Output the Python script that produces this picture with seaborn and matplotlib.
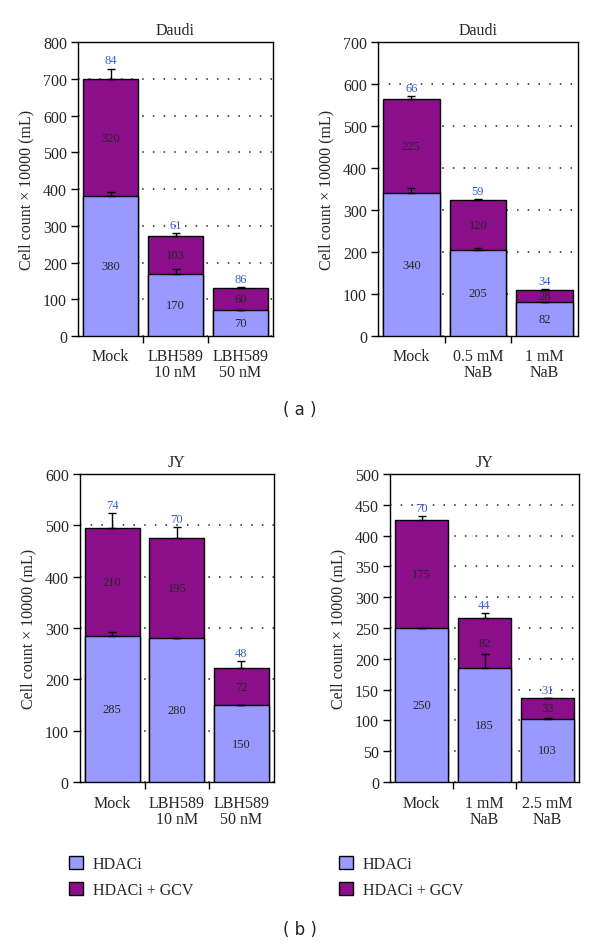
import matplotlib
matplotlib.use('Agg')
import matplotlib.pyplot as plt
import seaborn as sns
from matplotlib.patches import Patch
from matplotlib.ticker import FixedLocator

# ==============================================================================
# DATA
# ==============================================================================
daudi_lbh_labels = ['Mock', 'LBH589\n10 nM', 'LBH589\n50 nM']
daudi_lbh_hdaci = [380, 170, 70]
daudi_lbh_gcv = [320, 103, 60]
daudi_lbh_hdaci_err = [13, 13, 1]
daudi_lbh_total_err = [28, 8, 2]
daudi_lbh_pct = ['84', '61', '86']

daudi_nab_labels = ['Mock', '0.5 mM\nNaB', '1 mM\nNaB']
daudi_nab_hdaci = [340, 205, 82]
daudi_nab_gcv = [225, 120, 28]
daudi_nab_hdaci_err = [13, 5, 0]
daudi_nab_total_err = [7, 1, 1]
daudi_nab_pct = ['66', '59', '34']

jy_lbh_labels = ['Mock', 'LBH589\n10 nM', 'LBH589\n50 nM']
jy_lbh_hdaci = [285, 280, 150]
jy_lbh_gcv = [210, 195, 72]
jy_lbh_hdaci_err = [7, 0, 0]
jy_lbh_total_err = [29, 22, 14]
jy_lbh_pct = ['74', '70', '48']

jy_nab_labels = ['Mock', '1 mM\nNaB', '2.5 mM\nNaB']
jy_nab_hdaci = [250, 185, 103]
jy_nab_gcv = [175, 82, 33]
jy_nab_hdaci_err = [0, 22, 1]
jy_nab_total_err = [6, 7, 1]
jy_nab_pct = ['70', '44', '31']

BLUE = '#9999FF'
PURPLE = '#8B0F8B'
PCT_COLOR = '#3B5BDB'

sns.set_style('white')
plt.rcParams['font.family'] = ['Liberation Serif', 'DejaVu Serif']


def draw_panel(fig, rect, title, labels, hdaci, gcv, hdaci_err, total_err, pct, ymax, ystep):
    ax = fig.add_axes(rect)
    totals = [a + b for a, b in zip(hdaci, gcv)]

    # stacked bars: total in purple, HDACi part drawn over it in blue
    sns.barplot(x=labels, y=totals, color=PURPLE, saturation=1, width=0.85,
                edgecolor='black', linewidth=1, ax=ax, zorder=2)
    sns.barplot(x=labels, y=hdaci, color=BLUE, saturation=1, width=0.85,
                edgecolor='black', linewidth=1, ax=ax, zorder=3)

    xs = list(range(len(labels)))
    ax.errorbar(xs, hdaci, yerr=[[0] * len(xs), hdaci_err], fmt='none',
                ecolor='black', elinewidth=1, capsize=3, capthick=1, zorder=4)
    ax.errorbar(xs, totals, yerr=[[0] * len(xs), total_err], fmt='none',
                ecolor='black', elinewidth=1, capsize=3, capthick=1, zorder=4)

    for i in xs:
        ax.text(i, hdaci[i] / 2, str(hdaci[i]), ha='center', va='center',
                fontsize=9, zorder=5)
        ax.text(i, hdaci[i] + gcv[i] / 2, str(gcv[i]), ha='center', va='center',
                fontsize=9, zorder=5)
        ax.annotate(pct[i], (i, totals[i] + total_err[i]), xytext=(0, 1.5),
                    textcoords='offset points', ha='center', va='bottom',
                    color=PCT_COLOR, fontsize=9, zorder=5)

    ax.set_ylim(0, ymax)
    ax.set_xlim(-0.5, len(labels) - 0.5)
    ax.set_yticks(range(0, ymax + 1, ystep))
    ax.yaxis.grid(True, linestyle=(0, (1, 6)), color='#222222', linewidth=1.1)
    ax.set_axisbelow(True)

    # tick marks between categories, labels under bars
    ax.xaxis.set_minor_locator(FixedLocator([i + 0.5 for i in xs[:-1]]))
    ax.tick_params(axis='x', which='major', length=0, pad=9, labelsize=11.5)
    ax.tick_params(axis='x', which='minor', length=5, width=1, direction='out',
                   color='black', bottom=True)
    ax.tick_params(axis='y', length=5, width=1, direction='out', color='black',
                   left=True, labelsize=11.5, pad=3)
    for lab in ax.get_xticklabels():
        lab.set_linespacing(1.0)

    for sp in ax.spines.values():
        sp.set_visible(True)
        sp.set_color('black')
        sp.set_linewidth(1)

    ax.set_ylabel('Cell count × 10000 (mL)', fontsize=11.5, labelpad=6)
    ax.set_xlabel('')
    ax.set_title(title, fontsize=11.5, pad=6)
    return ax


fig = plt.figure(figsize=(6, 9.45), dpi=100)

draw_panel(fig, [0.130, 0.6434, 0.325, 0.311], 'Daudi', daudi_lbh_labels,
           daudi_lbh_hdaci, daudi_lbh_gcv, daudi_lbh_hdaci_err,
           daudi_lbh_total_err, daudi_lbh_pct, 800, 100)
draw_panel(fig, [0.630, 0.6434, 0.333, 0.311], 'Daudi', daudi_nab_labels,
           daudi_nab_hdaci, daudi_nab_gcv, daudi_nab_hdaci_err,
           daudi_nab_total_err, daudi_nab_pct, 700, 100)
draw_panel(fig, [0.1333, 0.1714, 0.323, 0.326], 'JY', jy_lbh_labels,
           jy_lbh_hdaci, jy_lbh_gcv, jy_lbh_hdaci_err,
           jy_lbh_total_err, jy_lbh_pct, 600, 100)
draw_panel(fig, [0.650, 0.1714, 0.315, 0.326], 'JY', jy_nab_labels,
           jy_nab_hdaci, jy_nab_gcv, jy_nab_hdaci_err,
           jy_nab_total_err, jy_nab_pct, 500, 50)

handles = [Patch(facecolor=BLUE, edgecolor='black', linewidth=1),
           Patch(facecolor=PURPLE, edgecolor='black', linewidth=1)]
legend_labels = ['HDACi', 'HDACi + GCV']
for x0 in (0.105, 0.555):
    fig.legend(handles, legend_labels, loc='upper left',
               bbox_to_anchor=(x0, 0.0995), bbox_transform=fig.transFigure,
               frameon=False, fontsize=11.5, handlelength=0.85, handleheight=0.85,
               handletextpad=0.6, labelspacing=0.6, borderaxespad=0)

fig.text(0.5, 1 - 410 / 945, '( a )', ha='center', va='center',
         fontsize=12, family='DejaVu Sans')
fig.text(0.5, 1 - 930 / 945, '( b )', ha='center', va='center',
         fontsize=12, family='DejaVu Sans')

fig.savefig('out.png', dpi=100)
